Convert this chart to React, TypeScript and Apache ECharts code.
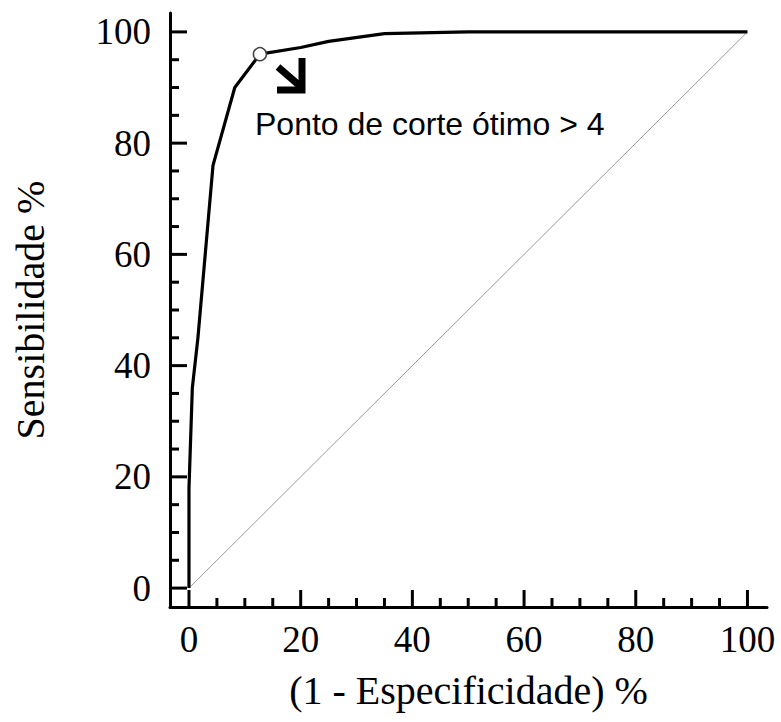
import React, { useEffect, useRef } from "react";
import * as echarts from "echarts";

// ROC curve vertices: (1 - specificity) %, sensitivity %
const rocFpr = [0, 0, 0.6, 1.6, 4.3, 8.2, 12.7, 20, 25, 35, 50, 100];
const rocSens = [0, 18, 36, 45, 76, 90, 96, 97.2, 98.3, 99.7, 100, 100];
const diagX = [0, 100];
const diagY = [0, 100];
const optimalPoint = [12.7, 96];
const majorTicks = [0, 20, 40, 60, 80, 100];
const minorTicks = [5, 10, 15, 25, 30, 35, 45, 50, 55, 65, 70, 75, 85, 90, 95];
const xTitle = "(1 - Especificidade) %";
const yTitle = "Sensibilidade %";
const annotation = "Ponto de corte ótimo > 4";

const serif = "Liberation Serif";
const AX_LOW = -3.4;
const MAJOR_LEN = 17;
const MINOR_LEN = 9;

export default function App() {
  const ref = useRef<HTMLDivElement>(null);
  useEffect(() => {
    if (!ref.current) return;
    const chart = echarts.init(ref.current, null, { renderer: "svg" });
    const base = {
      type: "value" as const,
      min: AX_LOW,
      splitLine: { show: false },
      axisTick: { show: false },
      axisLine: { show: true, onZero: false, lineStyle: { color: "#000", width: 3 } },
      nameLocation: "middle" as const,
      nameTextStyle: { fontFamily: serif, fontSize: 40, color: "#000" },
    };
    chart.setOption({
      animation: false,
      backgroundColor: "#fff",
      grid: { left: 170, right: 14, top: 13, bottom: 115 },
      xAxis: {
        ...base,
        max: 103.5,
        name: xTitle,
        nameGap: 63,
        axisLabel: { customValues: majorTicks, margin: 14, fontFamily: serif, fontSize: 37, color: "#000" },
      },
      yAxis: {
        ...base,
        max: 103.4,
        name: yTitle,
        nameGap: 120,
        axisLabel: { customValues: majorTicks, margin: 19, fontFamily: serif, fontSize: 37, color: "#000" },
      },
      series: [
        {
          type: "line",
          data: diagX.map((x, i) => [x, diagY[i]]),
          symbol: "none",
          lineStyle: { color: "#999", width: 1 },
          z: 1,
        },
        {
          type: "line",
          data: rocFpr.map((x, i) => [x, rocSens[i]]),
          symbol: "none",
          lineStyle: { color: "#000", width: 3.2, join: "round" },
          z: 2,
        },
        {
          type: "scatter",
          data: [optimalPoint],
          symbol: "circle",
          symbolSize: 13,
          itemStyle: { color: "#fff", borderColor: "#444", borderWidth: 1.5, opacity: 1 },
          z: 3,
        },
      ],
    });

    const finder = { xAxisIndex: 0, yAxisIndex: 0 };
    const tickSpecs: [number, number][] = [
      ...majorTicks.map((v) => [v, MAJOR_LEN] as [number, number]),
      ...minorTicks.map((v) => [v, MINOR_LEN] as [number, number]),
    ];
    const tickEls: any[] = [];
    tickSpecs.forEach(([v, len]) => {
      const px = chart.convertToPixel(finder, [v, AX_LOW]) as number[];
      tickEls.push({
        type: "line",
        silent: true,
        z: 10,
        shape: { x1: px[0], y1: px[1], x2: px[0], y2: px[1] - len },
        style: { stroke: "#000", lineWidth: 3 },
      });
      const py = chart.convertToPixel(finder, [AX_LOW, v]) as number[];
      tickEls.push({
        type: "line",
        silent: true,
        z: 10,
        shape: { x1: py[0], y1: py[1], x2: py[0] + len, y2: py[1] },
        style: { stroke: "#000", lineWidth: 3 },
      });
    });

    chart.setOption({
      graphic: [
        ...tickEls,
        {
          type: "line",
          shape: { x1: 278, y1: 67, x2: 300, y2: 86 },
          style: { stroke: "#000", lineWidth: 7, lineCap: "butt" },
        },
        {
          type: "polyline",
          shape: { points: [[302, 58], [302, 90], [277, 90]] },
          style: { stroke: "#000", lineWidth: 7, lineJoin: "miter", fill: null },
        },
        {
          type: "text",
          x: 255,
          y: 124,
          style: {
            text: annotation,
            fontFamily: "Liberation Sans",
            fontSize: 32,
            fill: "#000",
            verticalAlign: "middle",
          },
        },
      ],
    });
    return () => chart.dispose();
  }, []);
  return (
    <div
      ref={ref}
      style={{ position: "fixed", left: 0, top: 0, width: 781, height: 722, background: "#fff" }}
    />
  );
}
